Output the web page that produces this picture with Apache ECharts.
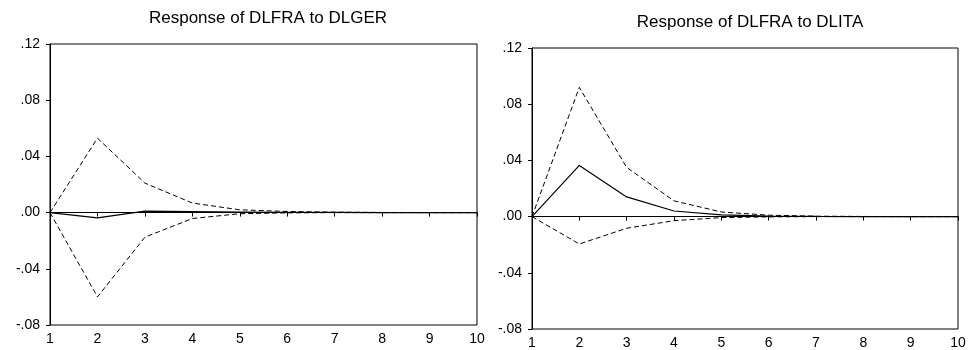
<!DOCTYPE html>
<html>
<head>
<meta charset="utf-8">
<script src="https://cdn.jsdelivr.net/npm/echarts@6/dist/echarts.min.js"></script>
<style>
html,body{margin:0;padding:0;background:#fff;}
#chart{width:970px;height:350px;}
</style>
</head>
<body>
<div id="chart"></div>
<script>
const periods = ['1','2','3','4','5','6','7','8','9','10'];
const titles = ['Response of DLFRA to DLGER', 'Response of DLFRA to DLITA'];

const gerMid   = [0, -0.0038, 0.001, 0.0008, 0.0004, 0.0002, 0.0001, 0, 0, 0];
const gerUpper = [0, 0.053, 0.021, 0.0068, 0.002, 0.0008, 0.0003, 0.0001, 0, 0];
const gerLower = [0, -0.060, -0.0175, -0.0042, -0.0008, -0.0002, 0, 0, 0, 0];

const itaMid   = [0, 0.0364, 0.014, 0.004, 0.0012, 0.0004, 0.0001, 0, 0, 0];
const itaUpper = [0, 0.092, 0.035, 0.0112, 0.0033, 0.001, 0.0003, 0.0001, 0, 0];
const itaLower = [0, -0.0195, -0.0083, -0.0029, -0.0007, -0.0002, 0, 0, 0, 0];

const yMin = -0.08, yMax = 0.12, yStep = 0.04;

const FONT = "'Liberation Sans', Arial, sans-serif";

function yFmt(v) {
  if (Math.abs(v) < 1e-9) return '.00';
  const s = Math.abs(v).toFixed(2).replace(/^0/, '');
  return (v < 0 ? '-' : '') + s;
}

function xAxisFor(idx) {
  return {
    type: 'category', gridIndex: idx, data: periods, boundaryGap: false,
    axisLine: { lineStyle: { color: '#000', width: 1 } },
    axisTick: { length: 4, lineStyle: { color: '#000' } },
    axisLabel: { color: '#000', fontSize: 14, fontFamily: FONT, margin: 7 },
    splitLine: { show: false }
  };
}
function yAxisFor(idx) {
  return {
    type: 'value', gridIndex: idx, min: yMin, max: yMax, interval: yStep,
    axisLine: { show: true, lineStyle: { color: '#000', width: 1 } },
    axisTick: { show: true, length: 4, lineStyle: { color: '#000' } },
    axisLabel: { color: '#000', fontSize: 14, fontFamily: FONT, margin: 10, formatter: yFmt },
    splitLine: { show: false }
  };
}
function solid(idx, data) {
  return {
    type: 'line', xAxisIndex: idx, yAxisIndex: idx, data: data,
    showSymbol: false, symbol: 'none', animation: false,
    lineStyle: { color: '#000', width: 1.2, type: 'solid' },
    markLine: {
      silent: true, symbol: 'none', animation: false,
      label: { show: false },
      lineStyle: { color: '#000', width: 1, type: 'solid' },
      data: [{ yAxis: 0 }]
    }
  };
}
function dashed(idx, data) {
  return {
    type: 'line', xAxisIndex: idx, yAxisIndex: idx, data: data,
    showSymbol: false, symbol: 'none', animation: false,
    lineStyle: { color: '#000', width: 1, type: [5, 3] }
  };
}

const chart = echarts.init(document.getElementById('chart'), null, { renderer: 'canvas' });
chart.setOption({
  backgroundColor: '#fff',
  animation: false,
  title: [
    { text: titles[0], left: 263, top: 5, textAlign: 'center',
      textStyle: { fontSize: 17, fontWeight: 'normal', color: '#000', fontFamily: FONT } },
    { text: titles[1], left: 745, top: 9, textAlign: 'center',
      textStyle: { fontSize: 17, fontWeight: 'normal', color: '#000', fontFamily: FONT } }
  ],
  grid: [
    { left: 50, right: 493, top: 44, bottom: 25, show: true, borderColor: '#000', borderWidth: 1, backgroundColor: 'transparent' },
    { left: 532, right: 12, top: 48, bottom: 21, show: true, borderColor: '#000', borderWidth: 1, backgroundColor: 'transparent' }
  ],
  xAxis: [xAxisFor(0), xAxisFor(1)],
  yAxis: [yAxisFor(0), yAxisFor(1)],
  series: [
    solid(0, gerMid), dashed(0, gerUpper), dashed(0, gerLower),
    solid(1, itaMid), dashed(1, itaUpper), dashed(1, itaLower)
  ]
});
</script>
</body>
</html>
